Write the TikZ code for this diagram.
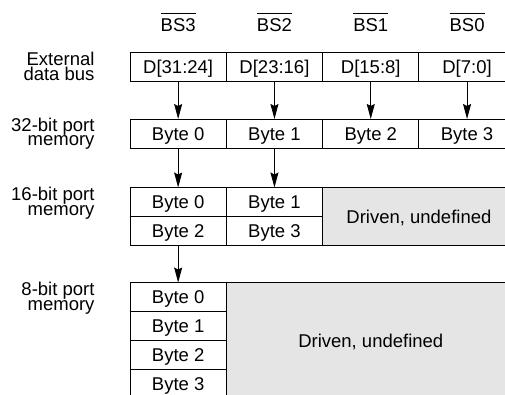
\documentclass[tikz,border=0pt]{standalone}
\usepackage{fontspec}
\setmainfont{Liberation Sans}
\usetikzlibrary{arrows.meta}
\definecolor{undef}{RGB}{229,229,229}
\begin{document}
\begin{tikzpicture}[x=1pt,y=-1pt,
  every node/.style={font=\fontsize{18.5}{14.5}\selectfont, inner sep=0pt, outer sep=0pt},
  cell/.style={draw, line width=1pt, minimum width=96.3pt, minimum height=29pt,
    text height=13.2pt, text depth=0pt, anchor=north west},
  grey/.style={cell, fill=undef},
  lab/.style={anchor=base east, align=right},
  bsl/.style={anchor=base, text height=13.2pt, text depth=0pt},
  arr/.style={line width=1pt, -{Stealth[length=15pt,width=8pt,inset=2pt]}},
  bar/.style={line width=1.3pt}
]
\useasboundingbox (0,0) rectangle (505,394);
\clip (0,0) rectangle (505,394);

% column headers
\node[bsl] (bs3) at (178.15,31.7) {BS3};
\node[bsl] (bs2) at (274.45,31.7) {BS2};
\node[bsl] (bs1) at (370.75,31.7) {BS1};
\node[bsl] (bs0) at (467.05,31.7) {BS0};
\foreach \n in {bs3,bs2,bs1,bs0}
  \draw[bar] ([yshift=5.2pt]\n.north west) -- ([yshift=5.2pt]\n.north east);

% row labels (anchor = baseline of the last line)
\node[lab] (l1) at (94.5,80) {External\\data bus};
\node[lab] (l2) at (94.5,145.5) {32-bit port\\memory};
\node[lab] (l3) at (94.5,215) {16-bit port\\memory};
\node[lab] (l4) at (94.5,310) {8-bit port\\memory};

% external data bus
\node[cell] (d3) at (130,52.5) {D[31:24]};
\node[cell] (d2) at (226.3,52.5) {D[23:16]};
\node[cell] (d1) at (322.6,52.5) {D[15:8]};
\node[cell] (d0) at (418.9,52.5) {D[7:0]};

% 32-bit port
\node[cell] (a0) at (130,119) {Byte 0};
\node[cell] (a1) at (226.3,119) {Byte 1};
\node[cell] (a2) at (322.6,119) {Byte 2};
\node[cell] (a3) at (418.9,119) {Byte 3};

% 16-bit port
\node[cell] (b0) at (130,187.5) {Byte 0};
\node[cell] (b1) at (226.3,187.5) {Byte 1};
\node[cell] (b2) at (130,216.5) {Byte 2};
\node[cell] (b3) at (226.3,216.5) {Byte 3};
\node[grey, minimum width=192.6pt, minimum height=58pt] (bu) at (322.6,187.5) {Driven, undefined};

% 8-bit port
\node[cell] (c0) at (130,282.5) {Byte 0};
\node[cell] (c1) at (130,311.5) {Byte 1};
\node[cell] (c2) at (130,340.5) {Byte 2};
\node[cell] (c3) at (130,369.5) {Byte 3};
\node[grey, minimum width=288.9pt, minimum height=116pt] (cu) at (226.3,282.5) {Driven, undefined};

% arrows
\draw[arr] (d3.south) -- (a0.north);
\draw[arr] (d2.south) -- (a1.north);
\draw[arr] (d1.south) -- (a2.north);
\draw[arr] (d0.south) -- (a3.north);
\draw[arr] (a0.south) -- (b0.north);
\draw[arr] (a1.south) -- (b1.north);
\draw[arr] (b2.south) -- (c0.north);
\end{tikzpicture}
\end{document}
